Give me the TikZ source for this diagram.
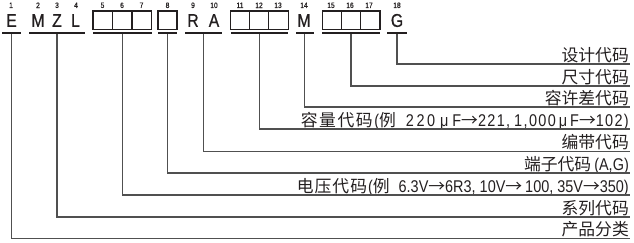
\documentclass[tikz,border=0pt]{standalone}
\usepackage{fontspec}
\setmainfont{Noto Sans CJK SC}
\newfontfamily\cjk{Noto Sans CJK SC}
\newfontfamily\latc{Liberation Sans}[FakeStretch=0.85]
\newfontfamily\latwf{Liberation Sans}[FakeStretch=0.85,LetterSpace=8]
\newfontfamily\numf{Liberation Sans}[FakeStretch=0.85,FakeBold=0.6]
\definecolor{ink}{HTML}{231F20}
\definecolor{wirec}{HTML}{505050}
\newcommand{\la}[1]{{\latc\fontsize{17}{18}\selectfont #1}}
\newcommand{\lw}[1]{{\latwf\fontsize{17}{18}\selectfont #1}}
\newcommand{\kk}{\kern1pt}
\newcommand{\kw}{\kern1.6pt}
\begin{document}
\begin{tikzpicture}[x=1pt,y=-1pt,
  num/.style={font=\numf\fontsize{7.8}{8}\selectfont, inner sep=0pt, text=ink},
  let/.style={font=\numf\fontsize{18.5}{20}\selectfont, inner sep=0pt, text=ink},
  cell/.style={draw=ink, line width=1.1pt, minimum height=18.3pt, inner sep=0pt},
  ubar/.style={fill=ink, inner sep=0pt, minimum height=2.2pt},
  lab/.style={anchor=south east, inner xsep=1pt, inner ysep=2.5pt, text depth=0pt, font=\cjk\fontsize{16.8}{18}\selectfont, text=ink},
  conn/.style={draw=wirec, line width=1.1pt}]
\useasboundingbox (0,0) rectangle (634,243);
% position numbers
\foreach \n/\x in {1/11,2/38,3/57,4/76,5/102.5,6/122,7/141.5,8/167.5,9/193,10/214,11/240,12/259,13/278,14/304,15/331,16/350,17/369,18/397}
  \node[num] (n\n) at (\x,5.3) {\n};
% letters
\node[let] (cE) at (11.5,20.5) {E};
\node[let] (cM) at (38,20.5) {M};
\node[let] (cZ) at (57,20.5) {Z};
\node[let] (cL) at (75.5,20.5) {L};
\node[let] (cR) at (193,20.5) {R};
\node[let] (cA) at (214,20.5) {A};
\node[let] (cM2) at (304,20.5) {M};
\node[let] (cG) at (397,20.5) {G};
% boxes
\node[cell, minimum width=19.5pt] (b5) at (102.75,20.2) {};
\node[cell, minimum width=19.5pt] (b6) at (122.25,20.2) {};
\node[cell, minimum width=19.5pt] (b7) at (141.75,20.2) {};
\node[cell, minimum width=19pt] (b8) at (167.5,20.2) {};
\node[cell, minimum width=19.2pt] (b11) at (240.1,20.2) {};
\node[cell, minimum width=19.2pt] (b12) at (259.3,20.2) {};
\node[cell, minimum width=19.2pt] (b13) at (278.5,20.2) {};
\node[cell, minimum width=19.3pt] (b15) at (331.7,20.2) {};
\node[cell, minimum width=19.3pt] (b16) at (351,20.2) {};
\node[cell, minimum width=19.3pt] (b17) at (370.3,20.2) {};
% underlines
\node[ubar, minimum width=19pt] (uE) at (11.5,33) {};
\node[ubar, minimum width=56pt] (uMZL) at (57,33) {};
\node[ubar, minimum width=58.5pt] (uV) at (122.25,33) {};
\node[ubar, minimum width=19pt] (uT) at (167.5,33) {};
\node[ubar, minimum width=37pt] (uRA) at (203.5,33) {};
\node[ubar, minimum width=57.5pt] (uC) at (259.25,33) {};
\node[ubar, minimum width=18pt] (uM) at (304.5,33) {};
\node[ubar, minimum width=58pt] (uS) at (351,33) {};
\node[ubar, minimum width=20pt] (uG) at (397,33) {};
% labels
\node[lab] (lG) at (630,64) {设计代码};
\node[lab] (lS) at (630,86) {尺寸代码};
\node[lab] (lM) at (630,107) {容许差代码};
\node[lab] (lC) at (630,129) {容\kw 量\kw 代\kw 码\kw\la{(}例\hspace{10pt}\lw{2\kern2.5pt 2\kern2.5pt 0\kern5pt μ\kern4pt F}→\lw{221,}\hspace{4pt}\lw{1,000\kern3pt μ\kern3pt F}→\lw{102)}};
\node[lab] (lRA) at (630,151.5) {编带代码};
\node[lab] (lT) at (630,173) {端子代码\hspace{3pt}\la{(A,G)}};
\node[lab] (lV) at (630,195) {电\kk 压\kk 代\kk 码\kk\la{(}例\hspace{9pt}\la{6.3V}→\la{6R3,}\hspace{4pt}\la{10V}→\hspace{3pt}\la{100,}\hspace{4pt}\la{35V}→\la{350)}};
\node[lab] (lMZL) at (630,217) {系列代码};
\node[lab] (lE) at (630,238.5) {产品分类};
% connectors
\draw[conn] (uG.south) |- (lG.south east);
\draw[conn] (uS.south) |- (lS.south east);
\draw[conn] (uM.south) |- (lM.south east);
\draw[conn] (uC.south) |- (lC.south east);
\draw[conn] (uRA.south) |- (lRA.south east);
\draw[conn] (uT.south) |- (lT.south east);
\draw[conn] (uV.south) |- (lV.south east);
\draw[conn] (uMZL.south) |- (lMZL.south east);
\draw[conn] (uE.south) |- (lE.south east);
\end{tikzpicture}
\end{document}
